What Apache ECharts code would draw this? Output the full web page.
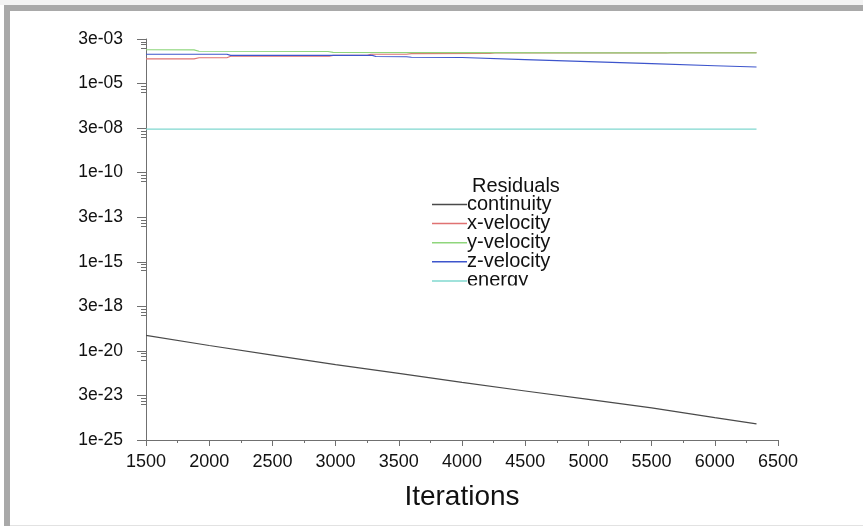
<!DOCTYPE html>
<html>
<head>
<meta charset="utf-8">
<script src="https://cdn.jsdelivr.net/npm/echarts@6/dist/echarts.min.js"></script>
<style>
  html, body { margin: 0; padding: 0; background: #fff; }
  #chart { width: 863px; height: 526px; }
</style>
</head>
<body>
<div id="chart"></div>
<script>
// residual history
var seriesNames = ['continuity', 'x-velocity', 'y-velocity', 'z-velocity', 'energy'];

var continuityIter = [1500, 2000, 2500, 3000, 3500, 4000, 4500, 5000, 5500, 6000, 6330];
var continuity = [7.4e-20, 2.0e-20, 5.8e-21, 1.7e-21, 5.5e-22, 1.7e-22, 5.6e-23, 1.9e-23, 6.3e-24, 1.8e-24, 8.1e-25];

var xVelIter = [1500, 1880, 1920, 2140, 2170, 2950, 2980, 3250, 3280, 3560, 3600, 4220, 4260, 5620, 5650, 6330];
var xVelocity = [2.4e-4, 2.4e-4, 2.8e-4, 2.8e-4, 3.4e-4, 3.4e-4, 3.8e-4, 3.8e-4, 4.4e-4, 4.4e-4, 4.8e-4, 4.9e-4, 5.2e-4, 5.2e-4, 5.5e-4, 5.5e-4];

var yVelIter = [1500, 1880, 1920, 2940, 2980, 4000, 5000, 6330];
var yVelocity = [7.9e-4, 7.8e-4, 6.5e-4, 6.3e-4, 5.6e-4, 5.4e-4, 5.2e-4, 5.2e-4];

var zVelIter = [1500, 2140, 2170, 3290, 3320, 3560, 3600, 4000, 4500, 5000, 5500, 6000, 6330];
var zVelocity = [4.4e-4, 4.4e-4, 3.8e-4, 3.8e-4, 3.3e-4, 3.2e-4, 3.0e-4, 2.9e-4, 2.2e-4, 1.7e-4, 1.3e-4, 1.0e-4, 8.5e-5];

var energyIter = [1500, 3000, 4500, 6330];
var energy = [2.8e-8, 2.8e-8, 2.8e-8, 2.8e-8];

var xTicks = [1500, 6500, 500];           // min, max, step
var yExtent = [1e-25, Math.pow(10, -2.5)]; // 1e-25 .. 3e-03
var colors = ['#4a4a4a', '#e07272', '#8fd67c', '#3d55cc', '#80d8cf'];

var FONT = '"Liberation Sans", Arial, Helvetica, sans-serif';
var STEP = Math.pow(10, 2.5);
var EPS = 1e-9; // keeps the end ticks inside the axis despite rounding

function pairs(xs, ys) {
    var out = [];
    for (var i = 0; i < xs.length; i++) {
        out.push([xs[i], ys[i]]);
    }
    return out;
}

// 3.16e-3 -> "3e-03"
function fmtExp(v) {
    var s = Number(v.toPrecision(1)).toExponential();
    var parts = s.split('e');
    var e = parseInt(parts[1], 10);
    var sign = e < 0 ? '-' : '+';
    var a = Math.abs(e);
    return parts[0] + 'e' + sign + (a < 10 ? '0' + a : a);
}

// labelled ticks every 2.5 decades, small ticks just below each one
var majorTicks = [];
var minorTicks = [];
for (var k = 0; k <= 9; k++) {
    var major = -25 + 2.5 * k;
    majorTicks.push(Math.pow(10, major));
    if (k > 0) {
        [0.16, 0.32, 0.5].forEach(function (d) {
            minorTicks.push(Math.pow(10, major - d));
        });
    }
}

var seriesData = [
    pairs(continuityIter, continuity),
    pairs(xVelIter, xVelocity),
    pairs(yVelIter, yVelocity),
    pairs(zVelIter, zVelocity),
    pairs(energyIter, energy)
];

var chart = echarts.init(document.getElementById('chart'));

var yMin = yExtent[0] * (1 - EPS);
var yMax = yExtent[1] * (1 + EPS);

var option = {
    animation: false,
    backgroundColor: '#fff',
    color: colors,
    textStyle: { fontFamily: FONT },
    grid: { left: 146, right: 85, top: 39, bottom: 86, containLabel: false, outerBoundsMode: 'none' },
    title: {
        text: 'Residuals',
        left: 472,
        top: 176,
        padding: 0,
        textStyle: { fontFamily: FONT, fontSize: 20, fontWeight: 'normal', color: '#111', lineHeight: 20 }
    },
    legend: {
        orient: 'vertical',
        left: 432,
        top: 194.5,
        padding: 0,
        itemGap: -0.9,
        itemWidth: 35,
        itemHeight: 1.5,
        icon: 'rect',
        selectedMode: false,
        data: seriesNames,
        textStyle: { fontFamily: FONT, fontSize: 20, color: '#111', padding: [0, 0, 0, -5] }
    },
    xAxis: {
        type: 'value',
        min: xTicks[0],
        max: xTicks[1],
        interval: xTicks[2],
        name: 'Iterations',
        nameLocation: 'middle',
        nameGap: 43,
        nameTextStyle: { fontFamily: FONT, fontSize: 28, color: '#111' },
        axisLine: { lineStyle: { color: '#707070', width: 1 } },
        axisTick: { show: true, length: 6, lineStyle: { color: '#707070' } },
        minorTick: { show: true, splitNumber: 2, length: 3, lineStyle: { color: '#707070' } },
        axisLabel: {
            fontFamily: FONT, fontSize: 18, color: '#111', margin: 13,
            formatter: function (v) { return String(v); }
        },
        splitLine: { show: false }
    },
    yAxis: [{
        type: 'log',
        logBase: STEP,
        min: yMin,
        max: yMax,
        axisLine: { show: true, lineStyle: { color: '#707070', width: 1 } },
        axisTick: { show: true, length: 9, customValues: majorTicks, lineStyle: { color: '#707070' } },
        axisLabel: {
            fontFamily: FONT, fontSize: 17.5, color: '#111', margin: 23,
            customValues: majorTicks, formatter: fmtExp
        },
        splitLine: { show: false }
    }, {
        type: 'log',
        logBase: STEP,
        min: yMin,
        max: yMax,
        position: 'left',
        axisLine: { show: false },
        axisTick: { show: true, length: 5, customValues: minorTicks, lineStyle: { color: '#707070' } },
        axisLabel: { show: false },
        splitLine: { show: false }
    }],
    graphic: [
        { type: 'rect', shape: { x: 0, y: 0, width: 863, height: 5 }, style: { fill: '#f3f3f3' }, z: 100 },
        { type: 'rect', shape: { x: 4, y: 5, width: 859, height: 6 }, style: { fill: '#a9a9a9' }, z: 100 },
        { type: 'rect', shape: { x: 4, y: 5, width: 6, height: 521 }, style: { fill: '#a9a9a9' }, z: 100 },
        { type: 'rect', shape: { x: 10, y: 525, width: 853, height: 1 }, style: { fill: '#e2e2e2' }, z: 100 },
        // the legend box cuts off the last row's descenders
        { type: 'rect', shape: { x: 465, y: 285.5, width: 80, height: 6 }, style: { fill: '#fff' }, z: 100 }
    ],
    series: seriesNames.map(function (name, i) {
        return {
            name: name,
            type: 'line',
            yAxisIndex: 0,
            showSymbol: false,
            symbol: 'none',
            itemStyle: { color: colors[i] },
            lineStyle: { width: 1.2, color: colors[i] },
            data: seriesData[i]
        };
    })
};

chart.setOption(option);
</script>
</body>
</html>
